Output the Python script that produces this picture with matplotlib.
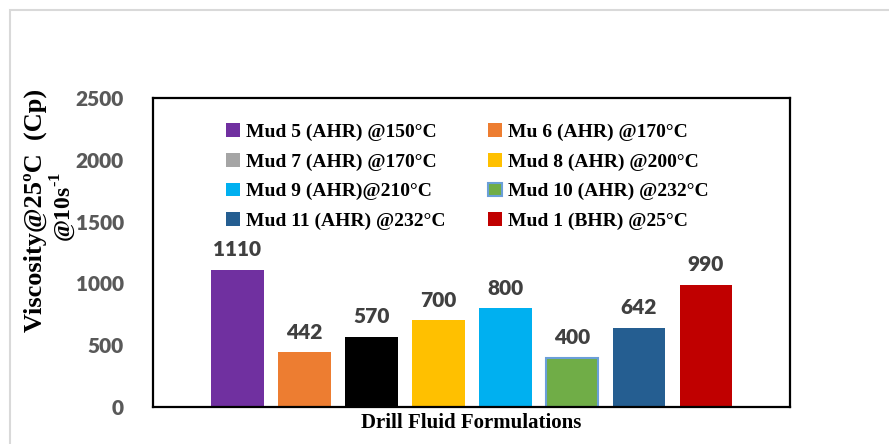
import matplotlib.pyplot as plt
from matplotlib.patches import Patch, Rectangle

# Viscosity of each mud formulation, measured at 25 C and 10 1/s
labels = ['Mud 5 (AHR) @150°C', 'Mu 6 (AHR) @170°C', 'Mud 7 (AHR) @170°C',
          'Mud 8 (AHR) @200°C', 'Mud 9 (AHR)@210°C', 'Mud 10 (AHR) @232°C',
          'Mud 11 (AHR) @232°C', 'Mud 1 (BHR) @25°C']
viscosity = [1110, 442, 570, 700, 800, 400, 642, 990]
bar_colors = ['#7030a0', '#ed7d31', '#000000', '#ffc000',
              '#00b0f0', '#70ad47', '#255e91', '#c00000']
key_colors = ['#7030a0', '#ed7d31', '#a5a5a5', '#ffc000',
              '#00b0f0', '#70ad47', '#255e91', '#c00000']
edge_colors = ['none'] * 5 + ['#6a9fd8'] + ['none'] * 2
yticks = [0, 500, 1000, 1500, 2000, 2500]

plt.rcParams['mathtext.fontset'] = 'custom'
plt.rcParams['mathtext.rm'] = 'Liberation Serif:bold'

fig = plt.figure(figsize=(8.89, 4.44), dpi=100)
ax = fig.add_axes([0.172, 0.0833, 0.717, 0.696])

# light grey chart-area border (only top and left edges fall inside the image)
fig.patches.append(Rectangle((10 / 889, -0.1), 1.2, (434 / 444) + 0.1,
                             transform=fig.transFigure, fill=False,
                             edgecolor='#d9d9d9', linewidth=1.5))

x = list(range(len(viscosity)))
bars = ax.bar(x, viscosity, width=0.79, color=bar_colors,
              edgecolor=edge_colors, linewidth=1.5)
for xi, v in zip(x, viscosity):
    ax.text(xi, v + 85, str(v), ha='center', va='bottom',
            fontsize=15, fontweight='heavy', color='#404040', family='Lato')

ax.set_xlim(-1.26, 8.26)
ax.set_ylim(0, 2500)
ax.set_xticks([])
ax.set_yticks(yticks)
ax.set_yticklabels([str(t) for t in yticks], fontsize=15, fontweight='heavy',
                   color='#595959', family='Lato')
ax.tick_params(axis='y', length=0, pad=21)
for s in ax.spines.values():
    s.set_linewidth(1.6)
    s.set_color('black')

ax.set_xlabel('Drill Fluid Formulations', fontsize=15, fontweight='bold',
              family='Liberation Serif', labelpad=4)
fig.text(35 / 889, 1 - 210 / 444, 'Viscosity@25ºC  (Cp)', rotation=90,
         ha='center', va='center', fontsize=19, fontweight='bold',
         family='Liberation Serif')
fig.text(63 / 889, 1 - 207 / 444, r'@10s$^{\text{-1}}$', rotation=90,
         ha='center', va='center', fontsize=17, fontweight='bold',
         family='Liberation Serif')

# legend laid out row by row
handles = [Patch(facecolor=c, edgecolor=e, linewidth=1.5)
           for c, e in zip(key_colors, edge_colors)]
order = [0, 2, 4, 6, 1, 3, 5, 7]
ax.legend([handles[i] for i in order], [labels[i] for i in order], ncol=2,
          loc='upper left', bbox_to_anchor=(0.1, 0.95), frameon=False,
          prop={'family': 'Liberation Serif', 'weight': 'bold', 'size': 14},
          handlelength=0.7, handleheight=0.7, handletextpad=0.3,
          columnspacing=2.2, labelspacing=0.62, borderpad=0)

fig.savefig('out.png', dpi=100, facecolor='white')
